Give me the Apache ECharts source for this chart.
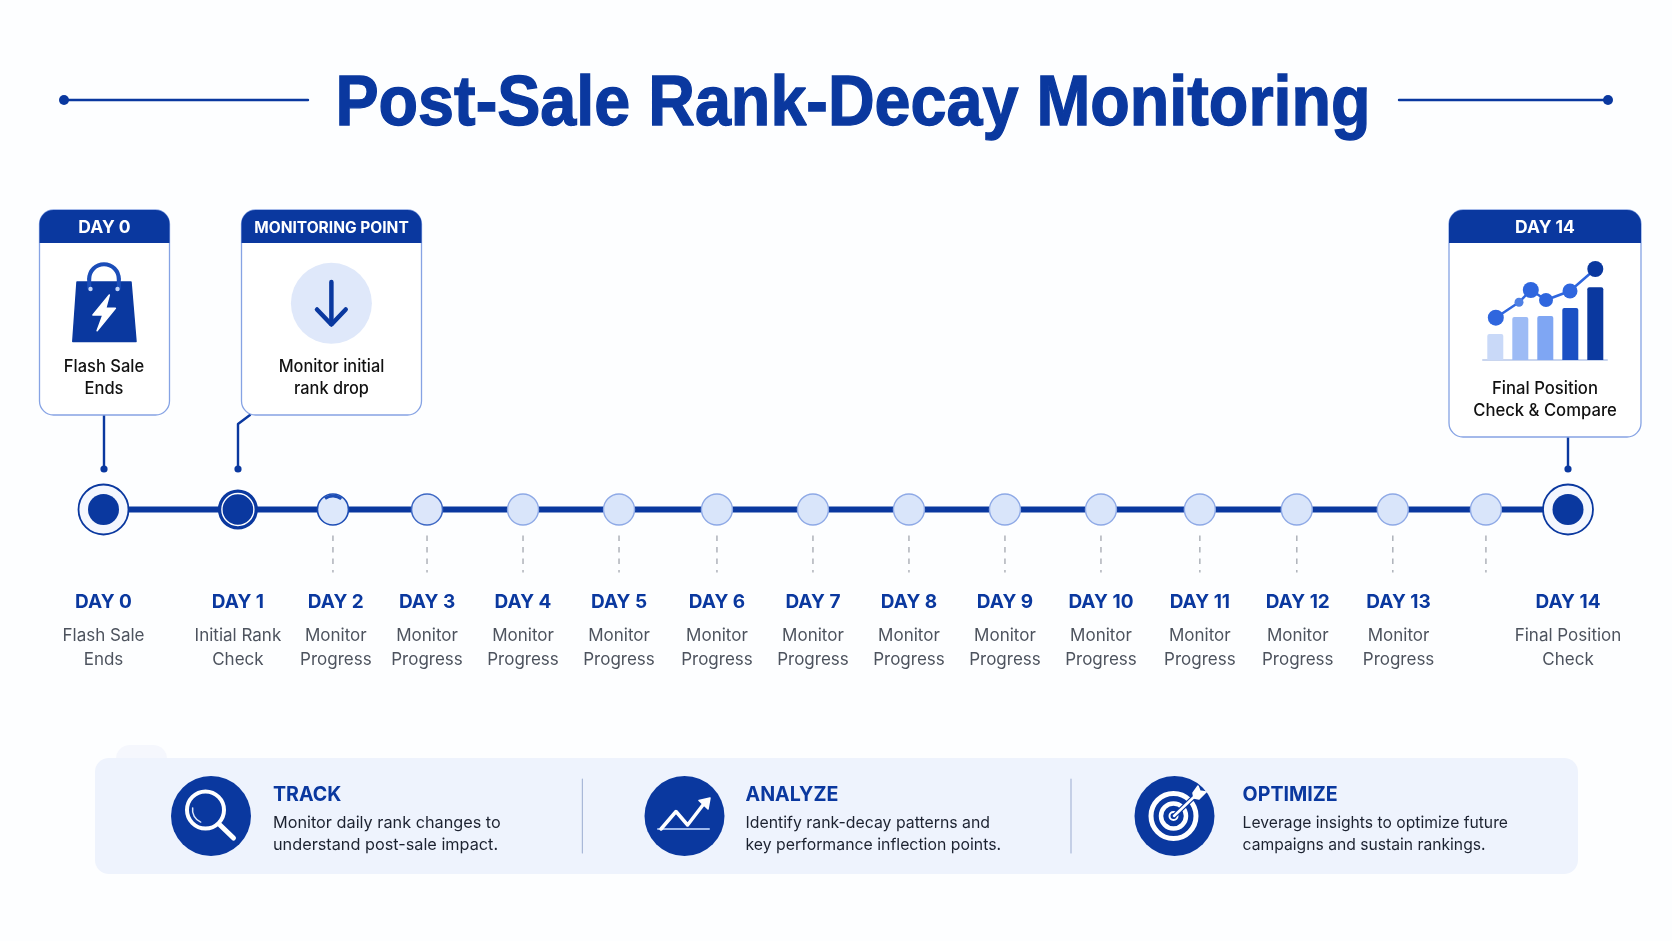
<!DOCTYPE html>
<html><head><meta charset="utf-8">
<style>html,body{margin:0;padding:0;background:#fdfeff}#c{width:1672px;height:941px}</style>
<script src="https://cdn.jsdelivr.net/npm/echarts@6/dist/echarts.min.js"></script>
</head><body><div id="c"></div>
<script>
// ---------- data ----------
const titleText = 'Post-Sale Rank-Decay Monitoring';
const nodeStops = [0, 1.40, 2.39, 3.37, 4.37, 5.37, 6.39, 7.39, 8.39, 9.39, 10.39, 11.42, 12.43, 13.43, 14.40, 15.255];
const nodeKinds = ['start','check','progressDark','progressMid','progress','progress','progress','progress','progress','progress','progress','progress','progress','progress','progress','end'];
const dashStops = [2.39, 3.37, 4.37, 5.37, 6.39, 7.39, 8.39, 9.39, 10.39, 11.42, 12.43, 13.43, 14.40];
const labelStops = [0, 1.40, 2.42, 3.37, 4.37, 5.37, 6.39, 7.39, 8.39, 9.39, 10.39, 11.42, 12.44, 13.49, 15.255];
const dayNames = ['DAY 0','DAY 1','DAY 2','DAY 3','DAY 4','DAY 5','DAY 6','DAY 7','DAY 8','DAY 9','DAY 10','DAY 11','DAY 12','DAY 13','DAY 14'];
const dayFirstLines = ['Flash Sale','Initial Rank','Monitor','Monitor','Monitor','Monitor','Monitor','Monitor','Monitor','Monitor','Monitor','Monitor','Monitor','Monitor','Final Position'];
const daySecondLines = ['Ends','Check','Progress','Progress','Progress','Progress','Progress','Progress','Progress','Progress','Progress','Progress','Progress','Progress','Check'];
const sparkCategories = ['A','B','C','D','E'];
const sparkBars = [26, 43, 44, 52, 72.7];
const sparkLineX = [13, 36.2, 48, 63.2, 87.2, 112.5];
const sparkLineY = [42.3, 57.7, 70, 60, 69, 91];
const panelHeads = ['TRACK','ANALYZE','OPTIMIZE'];
const panelLine1 = ['Monitor daily rank changes to','Identify rank-decay patterns and','Leverage insights to optimize future'];
const panelLine2 = ['understand post-sale impact.','key performance inflection points.','campaigns and sustain rankings.'];

// ---------- style ----------
const NAVY = '#0A389F', FONT = 'Inter, "Noto Sans", sans-serif';
const sparkBarColors = ['#C9D9F8','#9DBBF5','#7FA6F3','#1B50C4','#0A389F'];
const sparkDotColors = ['#2F66DE','#4F80E4','#2F66DE','#2F66DE','#2F66DE','#0A389F'];
const sparkDotSizes = [16,9,16,14,15,16];

function txt(x,y,text,font,fill,align,sx){const e={type:'text',x:x,y:y,silent:true,style:{text:text,font:font,fill:fill,align:align||'center',verticalAlign:'middle',textAlign:align||'center',textVerticalAlign:'middle'}};if(sx)e.scaleX=sx;return e;}
function circ(cx,cy,r,fill,stroke,lw){return {type:'circle',shape:{cx:cx,cy:cy,r:r},silent:true,style:{fill:fill||'none',stroke:stroke||'none',lineWidth:lw||0}};}
function pl(points,stroke,lw){return {type:'polyline',shape:{points:points},silent:true,style:{fill:'none',stroke:stroke,lineWidth:lw,lineCap:'round',lineJoin:'round'}};}
function pg(points,fill){return {type:'polygon',shape:{points:points},silent:true,style:{fill:fill,stroke:fill,lineWidth:1.5,lineJoin:'round'}};}
function rrect(x,y,w,h,r,fill,stroke,lw){return {type:'rect',shape:{x:x,y:y,width:w,height:h,r:r},silent:true,style:{fill:fill,stroke:stroke||'none',lineWidth:lw||0}};}
function arc(cx,cy,r,a,b,stroke,lw){return {type:'arc',shape:{cx:cx,cy:cy,r:r,startAngle:a,endAngle:b},silent:true,style:{fill:'none',stroke:stroke,lineWidth:lw,lineCap:'round'}};}
function card(x,y,w,h,head,headFont){return [
  rrect(x,y,w,h,14,'#ffffff','#86A3E4',1.3),
  rrect(x,y,w,33,[14,14,0,0],NAVY),
  txt(x+w/2,228,head,headFont,'#ffffff')];}

const F_CARD='500 17px '+FONT, F_DESC='400 16.5px '+FONT, F_HEAD='700 20px '+FONT;
const g = [];
// title
g.push(pl([[64,100],[308,100]],NAVY,2.4),circ(64,100,5,NAVY),pl([[1399,100],[1608,100]],NAVY,2.4),circ(1608,100,5,NAVY));
const t = txt(853,105.5,titleText,'700 70px "Liberation Sans", Arial, sans-serif',NAVY);
t.scaleX = 0.924; t.style.stroke = NAVY; t.style.lineWidth = 1.3; g.push(t);
// connectors
g.push(pl([[104,415],[104,469]],NAVY,2.4),circ(104,469,3.6,NAVY));
g.push(pl([[250,415],[238,424],[238,469]],NAVY,2.4),circ(238,469,3.6,NAVY));
g.push(pl([[1568,437],[1568,469]],NAVY,2.4),circ(1568,469,3.6,NAVY));
// cards
g.push(...card(39.5,210,130,205,'DAY 0','700 17.5px '+FONT));
g.push(...card(241.5,210,180,205,'MONITORING POINT','700 15.5px '+FONT));
g.push(...card(1449,210,192,227,'DAY 14','700 17.5px '+FONT));
g.push(txt(104,367,'Flash Sale',F_CARD,'#111',null,0.97),txt(104,389,'Ends',F_CARD,'#111',null,0.97));
g.push(txt(331.5,367,'Monitor initial',F_CARD,'#111',null,0.96),txt(331.5,389,'rank drop',F_CARD,'#111',null,0.96));
g.push(txt(1545,389,'Final Position',F_CARD,'#111',null,0.98),txt(1545,411,'Check & Compare',F_CARD,'#111',null,0.98));
// bag icon
g.push(arc(104,279,14.8,Math.PI,2*Math.PI,'#1B4DB8',4));
g.push(pg([[77,282],[131,282],[136,341.5],[72.8,341.5]],NAVY));
g.push(pl([[89.2,279],[89.2,288]],'#1B4DB8',4),pl([[118.8,279],[118.8,288]],'#1B4DB8',4));
g.push(circ(90.5,289,2.2,'#C4D6FA'),circ(117.5,289,2.2,'#C4D6FA'));
g.push(pg([[109.3,295],[92.9,315],[102.9,315],[97.1,330.7],[115.4,308.3],[105.7,308.3]],'#ffffff'));
// arrow icon
g.push(circ(331.4,303.3,40.5,'#DFE8FA'));
g.push(pl([[331.4,282],[331.4,324]],NAVY,4.5),pl([[317,309.5],[331.4,324.5],[345.7,309.5]],NAVY,4.5));
// spark baseline
g.push(pl([[1483,360],[1607,360]],'#C9D5EE',2));
// bottom panel
g.push(rrect(116,745,51,30,[14,14,0,0],'#F5F7FD'));
g.push(rrect(95,758,1483,116,14,'#EEF3FD'));
g.push(pl([[582.4,779],[582.4,853]],'#A9B8D8',1.2),pl([[1071,779],[1071,853]],'#A9B8D8',1.2));
const iconX=[211,684.5,1174.5], textX=[273,745.5,1242.6], panelScale=[0.985,0.96,0.95];
iconX.forEach(function(x){g.push(circ(x,816,40,NAVY));});
textX.forEach(function(x,i){
  g.push(txt(x,795,panelHeads[i],F_HEAD,NAVY,'left',0.98),txt(x,823,panelLine1[i],F_DESC,'#1c2230','left',panelScale[i]),txt(x,845,panelLine2[i],F_DESC,'#1c2230','left',panelScale[i]));
});
// magnifier
g.push(circ(205.5,810,18.5,'none','#ffffff',4),pl([[220,825],[233.5,838]],'#ffffff',5),arc(205.5,810,13,Math.PI*0.62,Math.PI*1.05,'#DCE6FA',1.5));
// analyze
g.push(pl([[658,829],[709,829]],'#9DB8EC',2),pl([[661,829],[676,811.5],[687.6,825],[706,801]],'#ffffff',3.5),pg([[710,798],[699,800.5],[708,809]],'#ffffff'));
// target
g.push(circ(1173.5,816,22.5,'none','#ffffff',5),circ(1173.5,816,12.5,'none','#ffffff',4.5),circ(1173.5,816,4,'none','#ffffff',2));
g.push(pl([[1174,816],[1196,795]],NAVY,5),pl([[1174,816],[1196,795]],'#ffffff',2.5),pg([[1193,793],[1198,786],[1200,791],[1206,792],[1199,799],[1194,798]],'#ffffff'));

// ---------- series data ----------
const nodeData = nodeStops.map(function(s,i){return {value:[s,0],kind:nodeKinds[i]};});
const labelData = labelStops.map(function(s,i){return {value:[s,0],first:dayFirstLines[i],second:daySecondLines[i],name:dayNames[i]};});

function renderNode(params,api){
  const c = api.coord([api.value(0),0]), k = nodeKinds[params.dataIndex], x=c[0], y=c[1];
  const o = function(r,fill,stroke,lw){return {type:'circle',shape:{cx:x,cy:y,r:r},style:{fill:fill,stroke:stroke||null,lineWidth:lw||0}};};
  let ch;
  if(k==='start'||k==='end') ch=[o(25,'#F4F7FE',NAVY,1.8),o(15.5,NAVY)];
  else if(k==='check') ch=[o(20,NAVY),o(16,'none','#ffffff',1.4)];
  else if(k==='progressDark') ch=[o(15.5,'#DDE8FB','#1D4DB5',1.6),{type:'arc',shape:{cx:x,cy:y,r:13.5,startAngle:-2.2,endAngle:-0.9},style:{fill:'none',stroke:'#1D4DB5',lineWidth:3}}];
  else if(k==='progressMid') ch=[o(15.5,'#DCE6FA','#3E68C4',1.5)];
  else ch=[o(15.5,'#D9E5FA','#8EA9E6',1.4)];
  return {type:'group',children:ch};
}
function renderDash(params,api){
  const c = api.coord([api.value(0),0]);
  return {type:'line',shape:{x1:c[0],y1:c[1]+26,x2:c[0],y2:c[1]+63},style:{stroke:'#AEB2BA',lineWidth:1.5,lineDash:[5.5,6]}};
}

const chart = echarts.init(document.getElementById('c'),null,{width:1672,height:941});
chart.setOption({
  animation:false,
  backgroundColor:'#FDFEFF',
  graphic:{elements:g},
  grid:[
    {left:103.5,width:1464.5,top:449.5,height:120},
    {left:1482.8,width:125,top:260,height:100}
  ],
  xAxis:[
    {type:'value',gridIndex:0,min:0,max:15.255,show:false},
    {type:'category',gridIndex:1,data:sparkCategories,show:false},
    {type:'value',gridIndex:1,min:0,max:125,show:false}
  ],
  yAxis:[
    {type:'value',gridIndex:0,min:-1,max:1,show:false},
    {type:'value',gridIndex:1,min:0,max:100,show:false}
  ],
  series:[
    {type:'custom',name:'dash',xAxisIndex:0,yAxisIndex:0,clip:false,z:2,silent:true,renderItem:renderDash,data:dashStops.map(function(s){return [s,0];})},
    {type:'line',name:'timeline',xAxisIndex:0,yAxisIndex:0,clip:false,z:3,silent:true,symbol:'none',lineStyle:{color:NAVY,width:6},data:nodeData.map(function(d){return d.value;})},
    {type:'custom',name:'nodes',xAxisIndex:0,yAxisIndex:0,clip:false,z:4,silent:true,renderItem:renderNode,data:nodeData.map(function(d){return d.value;})},
    {type:'scatter',name:'labels',xAxisIndex:0,yAxisIndex:0,clip:false,z:5,silent:true,symbolSize:1,itemStyle:{color:'rgba(0,0,0,0)',opacity:1},
      data:labelData,
      label:{show:true,position:'inside',offset:[0,117],align:'center',verticalAlign:'middle',
        formatter:function(p){return '{d|'+p.data.name+'}\n{t|'+p.data.first+'}\n{t|'+p.data.second+'}';},
        rich:{
          d:{fontFamily:FONT,fontWeight:700,fontSize:19,color:NAVY,lineHeight:42.6,align:'center'},
          t:{fontFamily:FONT,fontWeight:400,fontSize:17,color:'#4D535E',lineHeight:24,align:'center'}
        }}},
    {type:'bar',name:'spark bars',xAxisIndex:1,yAxisIndex:1,z:3,silent:true,barWidth:16,
      data:sparkBars.map(function(v,i){return {value:v,itemStyle:{color:sparkBarColors[i],borderRadius:[2,2,0,0]}};})},
    {type:'line',name:'spark line',xAxisIndex:2,yAxisIndex:1,z:4,silent:true,clip:false,lineStyle:{color:'#2F66DE',width:2.5},symbol:'circle',
      data:sparkLineX.map(function(x,i){return {value:[x,sparkLineY[i]],symbolSize:sparkDotSizes[i],itemStyle:{color:sparkDotColors[i]}};})}
  ]
});
</script></body></html>
